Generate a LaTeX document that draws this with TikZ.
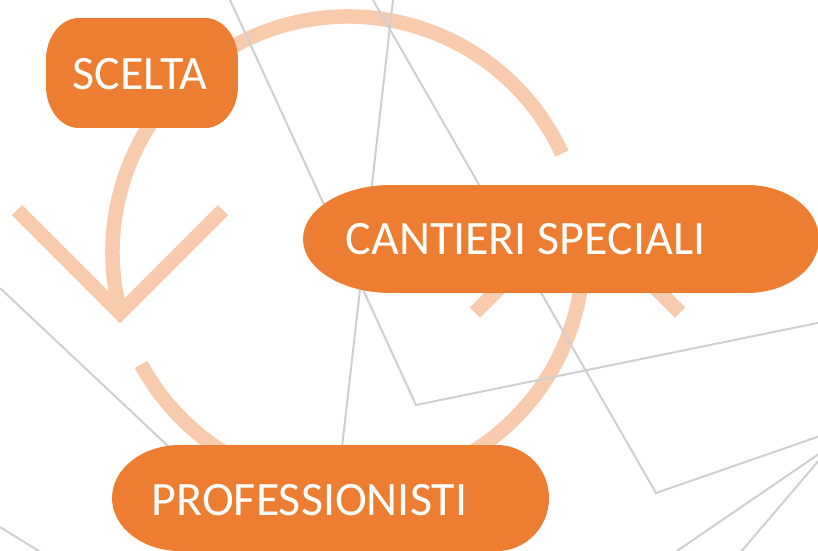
\documentclass[tikz,border=0pt]{standalone}
\usepackage{fontspec}
\setmainfont{Carlito}
\definecolor{orangeMain}{HTML}{ED7D31}
\definecolor{orangeLight}{HTML}{F8CBAD}
\definecolor{lineGrey}{HTML}{CFCFCF}
\begin{document}
\begin{tikzpicture}[x=1pt,y=-1pt,
  ring/.style={draw=orangeLight,line width=14.5pt,line cap=butt},
  chevron/.style={draw=orangeLight,line width=14.5pt,line cap=butt,line join=miter},
  greyline/.style={draw=lineGrey,line width=2pt},
  pill/.style={fill=orangeMain},
  label/.style={text=white,anchor=base,inner sep=0pt,font=\fontsize{48}{54}\selectfont}]
\useasboundingbox (0,0) rectangle (818,550);
\clip (0,0) rectangle (818,550);
% ring arcs
\coordinate (ringc) at (348,252);
\draw[ring] (ringc) ++(-24.7:235.5) arc[start angle=-24.7,end angle=-195,radius=235.5];
\draw[ring] (ringc) ++(-208.5:235.5) arc[start angle=-208.5,end angle=-370.4,radius=235.5];
% chevrons
\coordinate (chLa) at (17,210);
\coordinate (chLt) at (120,313);
\coordinate (chLb) at (223,210);
\draw[chevron] (chLa) -- (chLt) -- (chLb);
\coordinate (chRa) at (475,312.5);
\coordinate (chRt) at (577.5,210);
\coordinate (chRb) at (680,312.5);
\draw[chevron] (chRa) -- (chRt) -- (chRb);
% grey lines
\draw[greyline] (230,0) -- (416,405) -- (820,322.5);
\draw[greyline] (393,0) -- (340,465);
\draw[greyline] (373,0) -- (656,493) -- (820,436);
\draw[greyline] (0,288) -- (185,462);
\draw[greyline] (0,527) -- (42,553);
\draw[greyline] (832,445) -- (674,553);
\draw[greyline] (832,445) -- (740,553);
% node shapes: SCELTA
\fill[pill] (79,18) rectangle (205,128);
\fill[pill] (46,60) rectangle (238,86);
\fill[pill] (79,60) ellipse[x radius=33,y radius=42];
\fill[pill] (205,60) ellipse[x radius=33,y radius=42];
\fill[pill] (79,86) ellipse[x radius=33,y radius=42];
\fill[pill] (205,86) ellipse[x radius=33,y radius=42];
% CANTIERI SPECIALI
\fill[pill] (391,185) rectangle (747,293);
\fill[pill] (747,239) ellipse[x radius=72,y radius=54];
\fill[pill] (391,239) ellipse[x radius=88,y radius=54];
% PROFESSIONISTI
\fill[pill] (180,445) rectangle (497,551);
\fill[pill] (497,498) ellipse[x radius=52,y radius=53];
\fill[pill] (180,498) ellipse[x radius=68,y radius=53];
% labels
\node[label] (scelta) at (140,89) {SCELTA};
\node[label] (cantieri) at (525.5,254) {CANTIERI SPECIALI};
\node[label] (prof) at (309.5,515) {PROFESSIONISTI};
\end{tikzpicture}
\end{document}
